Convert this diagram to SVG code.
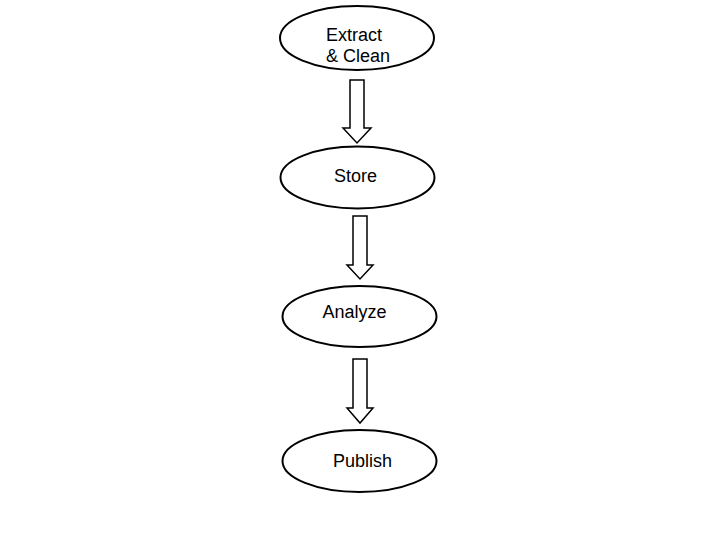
<svg xmlns="http://www.w3.org/2000/svg" width="720" height="540" viewBox="0 0 720 540">
<style>
.n{fill:#fff;stroke:#000;stroke-width:2}
.a{fill:#fff;stroke:#000;stroke-width:1.5;stroke-linejoin:miter}
.t{font-family:"Liberation Sans",Arial,sans-serif;font-size:18px;fill:#000;text-anchor:middle}
</style>
<rect width="720" height="540" fill="#fff"/>
<g id="connectors">
<polygon class="a" points="350,80 364,80 364,128 371,128 357,143 343,128 350,128"/>
<polygon class="a" points="353,216 367,216 367,265 373,265 360,279 347,265 353,265"/>
<polygon class="a" points="353,359 367,359 367,408 373,408 360,423 347,408 353,408"/>
</g>
<g id="extract">
<ellipse class="n" cx="357" cy="38" rx="77" ry="32"/>
<text class="t" x="354" y="41">Extract</text>
<text class="t" x="358" y="62">&amp; Clean</text>
</g>
<g id="store">
<ellipse class="n" cx="357.5" cy="177.5" rx="77" ry="31"/>
<text class="t" x="355.5" y="182">Store</text>
</g>
<g id="analyze">
<ellipse class="n" cx="359.5" cy="316.5" rx="77" ry="30.5"/>
<text class="t" x="354.5" y="318">Analyze</text>
</g>
<g id="publish">
<ellipse class="n" cx="359.5" cy="461" rx="77" ry="31"/>
<text class="t" x="362.5" y="467">Publish</text>
</g>
</svg>
